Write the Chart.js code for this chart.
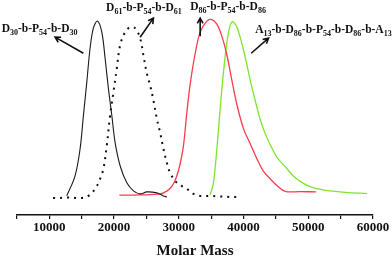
<!DOCTYPE html>
<html>
<head>
<meta charset="utf-8">
<script src="https://cdn.jsdelivr.net/npm/chart.js@4"></script>
<style>
  body { margin: 0; background: #fff; }
  canvas { display: block; }
</style>
</head>
<body>
<canvas id="grafico" width="392" height="259"></canvas>
<script>
// D30-b-P54-b-D30 (linea negra)
const blackMass = [12690, 13970, 14750, 15260, 15780, 16290, 16800, 17420, 18100, 18610, 19120, 19650, 20160, 20930, 21970, 22990, 24020, 25060, 26600, 27620, 28150];
const blackSignal = [19, 39, 66, 99, 132, 166, 186, 193, 182, 156, 126, 99, 72, 49, 32, 24, 21, 23, 22, 19, 18];

// D61-b-P54-b-D61 (punteada)
const dottedMass = [10570, 11650, 12740, 13970, 15060, 16030, 17070, 17840, 18350, 18870, 19380, 19890, 20420, 20930, 21700, 22480, 23250, 24020, 24530, 25060, 25570, 26080, 26600, 27110, 27620, 28150, 28660, 29700, 31240, 32260, 33300, 34840, 36390, 37940, 39020];
const dottedSignal = [17, 17, 17.5, 17, 17, 19, 26, 36, 46, 69, 99, 122, 146, 169, 182, 187, 186, 176, 159, 141, 129, 114, 96, 82, 66, 52, 42, 32, 26, 21, 19, 19, 18.5, 18, 18];

// D86-b-P54-b-D86 (roja)
const redMass = [20820, 24020, 27110, 28200, 28970, 29590, 30210, 30720, 31240, 31750, 32530, 33300, 34330, 35110, 35880, 36650, 37430, 38200, 38970, 39990, 41030, 42060, 43040, 44120, 45200, 46440, 48760, 51230];
const redSignal = [19.7, 20, 21, 24, 29, 37, 51, 69, 102, 130, 161, 182, 193, 194.5, 190, 178, 159, 134, 110, 86, 71, 56, 44, 36, 29, 23.5, 23.3, 23];

// A13-b-D86-b-P54-b-D86-b-A13 (verde)
const greenMass = [34840, 35350, 35880, 36390, 36900, 37430, 37940, 38350, 38970, 39480, 40260, 41030, 41800, 42570, 43350, 44120, 45200, 46440, 47990, 49530, 51080, 53400, 55720, 59070];
const greenSignal = [20, 32, 66, 106, 142, 172, 189, 192.5, 187, 177, 157, 134, 114, 95, 81, 70, 57, 48, 37, 30.5, 26.5, 24, 22.5, 21.3];

const xTicksMin = 5000;
const xTicksMax = 60000;
const xTickStep = 5000;

function puntos(xs, ys) {
  return xs.map((x, i) => ({ x: x, y: ys[i] }));
}

const fuente = '"Liberation Serif", "Times New Roman", serif';

// etiquetas con subindices: [texto, esSubindice]
const etiquetas = [
  { x: 2641, y: 182, partes: [['D', 0], ['30', 1], ['-b-P', 0], ['54', 1], ['-b-D', 0], ['30', 1]],
    flecha: [15256, 161, 10881, 177] },
  { x: 18766, y: 203, partes: [['D', 0], ['61', 1], ['-b-P', 0], ['54', 1], ['-b-D', 0], ['61', 1]],
    flecha: [24022, 177, 26078, 196] },
  { x: 31752, y: 204.5, partes: [['D', 0], ['86', 1], ['-b-P', 0], ['54', 1], ['-b-D', 0], ['86', 1]],
    flecha: [33298, 178, 33298, 196] },
  { x: 41801, y: 181, partes: [['A', 0], ['13', 1], ['-b-D', 0], ['86', 1], ['-b-P', 0], ['54', 1], ['-b-D', 0], ['86', 1], ['-b-A', 0], ['13', 1]],
    flecha: [41183, 161, 43858, 176] }
];

const pluginEtiquetas = {
  id: 'etiquetas',
  afterDraw(chart) {
    const ctx = chart.ctx;
    const sx = chart.scales.x;
    const sy = chart.scales.y;
    ctx.save();
    ctx.fillStyle = '#111';
    ctx.strokeStyle = '#111';
    ctx.textBaseline = 'alphabetic';
    etiquetas.forEach(et => {
      let px = sx.getPixelForValue(et.x);
      const py = sy.getPixelForValue(et.y);
      et.partes.forEach(([txt, sub]) => {
        ctx.font = sub ? 'bold 8px ' + fuente : 'bold 11.5px ' + fuente;
        ctx.fillText(txt, px, sub ? py + 3 : py);
        px += ctx.measureText(txt).width;
      });
      // flecha
      const [x1, y1, x2, y2] = et.flecha;
      const ax = sx.getPixelForValue(x1), ay = sy.getPixelForValue(y1);
      const bx = sx.getPixelForValue(x2), by = sy.getPixelForValue(y2);
      const ang = Math.atan2(by - ay, bx - ax);
      ctx.lineWidth = 1.6;
      ctx.beginPath();
      ctx.moveTo(ax, ay);
      ctx.lineTo(bx, by);
      ctx.moveTo(bx - 6 * Math.cos(ang - 0.5), by - 6 * Math.sin(ang - 0.5));
      ctx.lineTo(bx, by);
      ctx.lineTo(bx - 6 * Math.cos(ang + 0.5), by - 6 * Math.sin(ang + 0.5));
      ctx.stroke();
    });
    ctx.restore();
  }
};

const ctx = document.getElementById('grafico').getContext('2d');

new Chart(ctx, {
  type: 'line',
  data: {
    datasets: [
      {
        data: puntos(blackMass, blackSignal),
        borderColor: '#1a1a1a',
        borderWidth: 1.1,
        pointRadius: 0,
        tension: 0.35
      },
      {
        data: puntos(dottedMass, dottedSignal),
        borderColor: '#111',
        borderWidth: 2,
        borderDash: [2, 5],
        pointRadius: 0,
        tension: 0.35
      },
      {
        data: puntos(redMass, redSignal),
        borderColor: '#ff3a4c',
        borderWidth: 1.3,
        pointRadius: 0,
        tension: 0.35
      },
      {
        data: puntos(greenMass, greenSignal),
        borderColor: '#7fe52c',
        borderWidth: 1.3,
        pointRadius: 0,
        tension: 0.35
      }
    ]
  },
  options: {
    responsive: false,
    animation: false,
    layout: { padding: { left: 17, right: 19, top: 0, bottom: 0 } },
    plugins: {
      legend: { display: false },
      tooltip: { enabled: false }
    },
    scales: {
      x: {
        type: 'linear',
        min: xTicksMin,
        max: xTicksMax,
        border: { display: true, color: '#111', width: 1.5 },
        grid: { drawOnChartArea: false, drawTicks: true, tickLength: 4, color: '#111', lineWidth: 1.2 },
        ticks: {
          stepSize: xTickStep,
          autoSkip: false,
          maxRotation: 0,
          padding: 2,
          color: '#111',
          font: { family: fuente, size: 13, weight: 'bold', lineHeight: 1 },
          callback: v => (v % 10000 === 0 ? String(v) : '')
        },
        title: {
          display: true,
          text: 'Molar Mass',
          color: '#111',
          font: { family: fuente, size: 15, weight: 'bold', lineHeight: 1 },
          padding: { top: 8, bottom: 0 }
        }
      },
      y: {
        display: false,
        min: 0,
        max: 214
      }
    }
  },
  plugins: [pluginEtiquetas]
});
</script>
</body>
</html>
